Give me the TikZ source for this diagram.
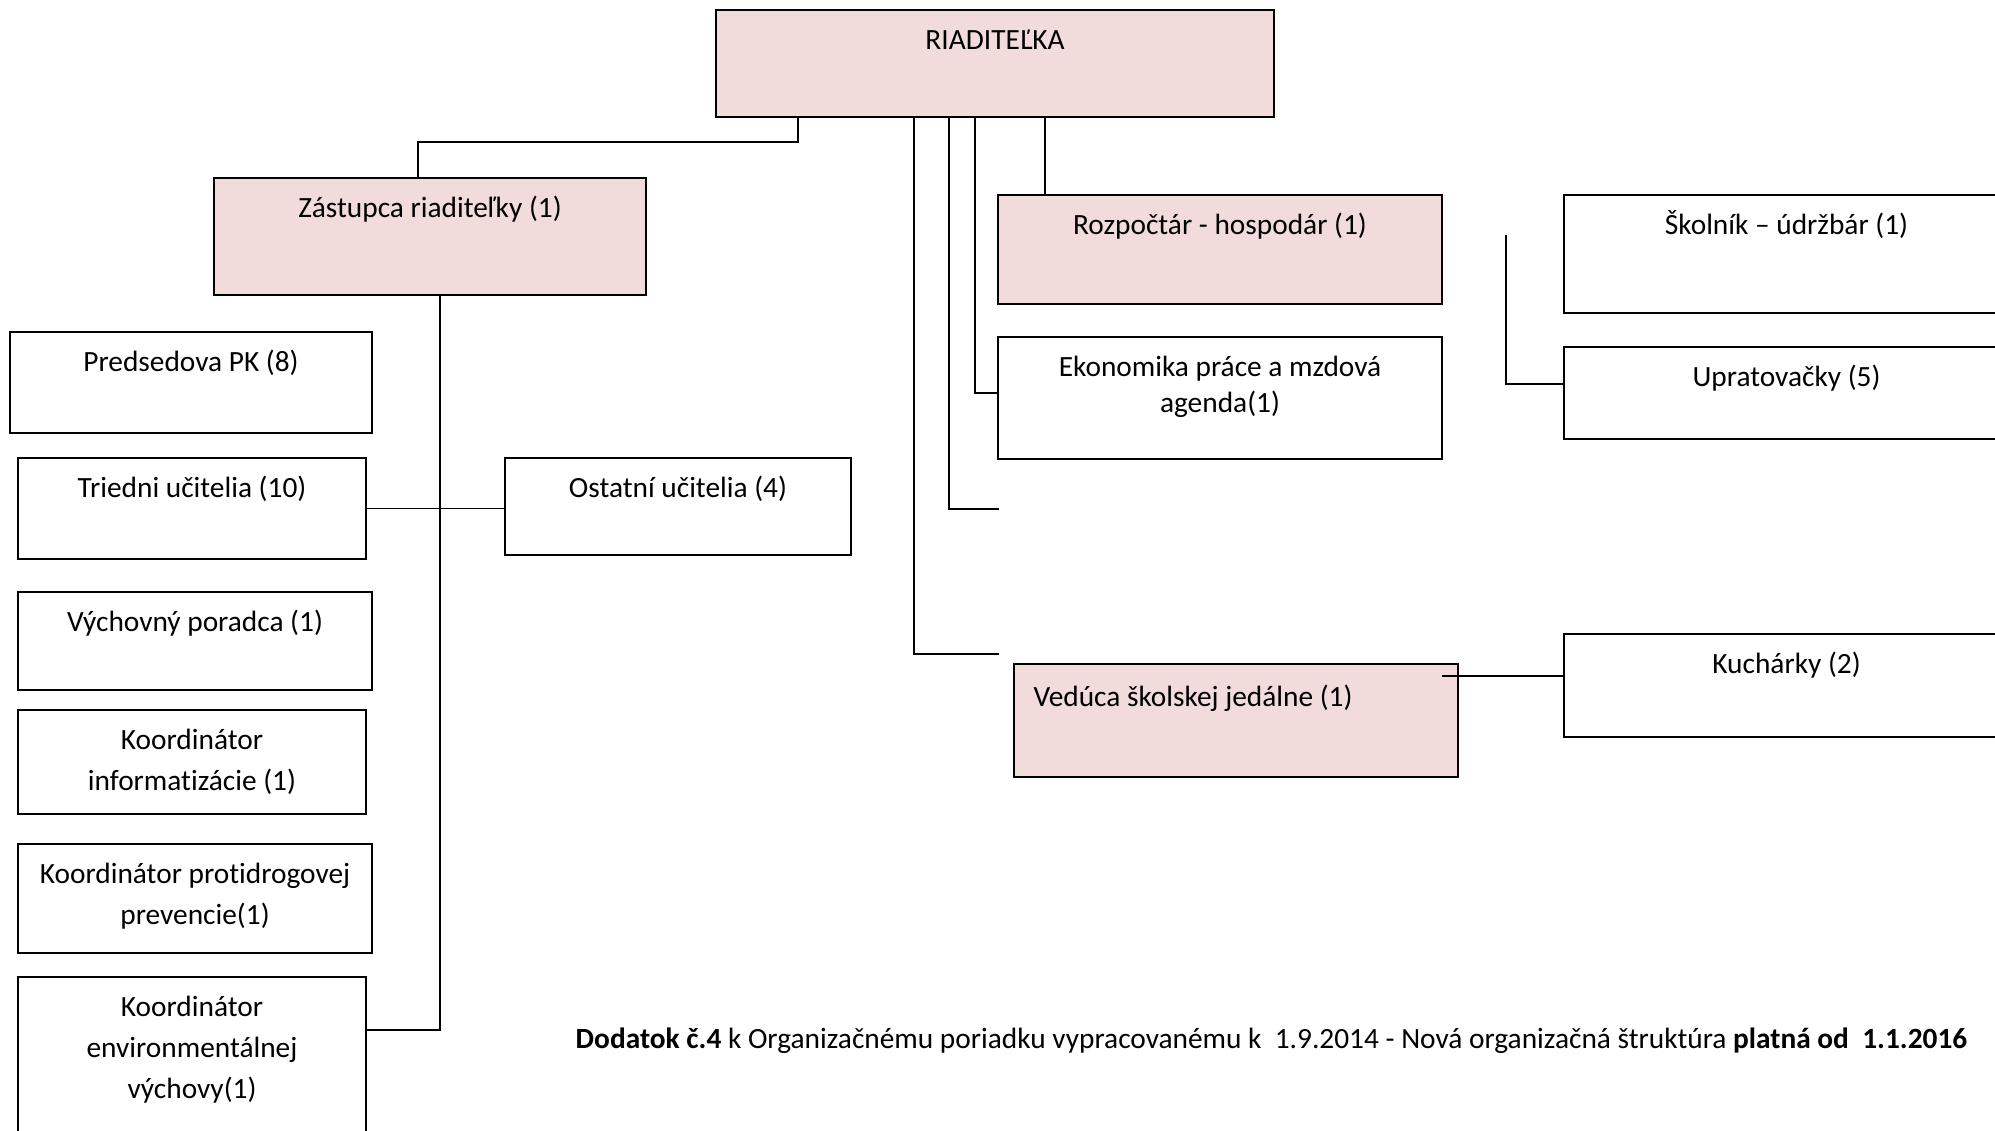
\documentclass[tikz,border=0pt]{standalone}
\usepackage{fontspec}
\setmainfont{Carlito}[Ligatures={TeX,CommonOff,ContextualOff}, Contextuals=AlternateOff]
\usepackage{tikz}
\usetikzlibrary{positioning}
\definecolor{ruzova}{HTML}{F2DCDB}
\tikzstyle{box}=[draw, line width=0.6pt, inner sep=0pt, shape=rectangle]
\tikzstyle{pbox}=[box, fill=ruzova]
\tikzstyle{txt}=[inner sep=0pt, anchor=base, text width=3.4cm, align=flush center]
\tikzstyle{con}=[line width=0.45pt]
\tikzset{every node/.append style={font=\fontsize{8.35}{11.6}\selectfont}}

\begin{document}
\begin{tikzpicture}[x=0.01cm, y=-0.01cm]
\path[use as bounding box, fill=white] (0,0) rectangle (1995,1130);
\clip (0,0) rectangle (1995,1130);
% vedenie
\node[pbox, minimum width=5.58cm, minimum height=1.07cm] (riad) at (995,63.5) {};
\node[txt] (riadT) at ([yshift=-0.41cm]riad.north) {RIADITEĽKA};
\node[pbox, minimum width=4.32cm, minimum height=1.17cm] (zast) at (430,236.5) {};
\node[txt] (zastT) at ([yshift=-0.405cm]zast.north) {Zástupca riaditeľky (1)};
% pedagogicki
\node[box, minimum width=3.62cm, minimum height=1.01cm] (preds) at (191,382.5) {};
\node[txt] (predsT) at ([yshift=-0.405cm]preds.north) {Predsedova PK (8)};
\node[box, minimum width=3.48cm, minimum height=1.01cm] (tried) at (192,508.5) {};
\node[txt] (triedT) at ([yshift=-0.405cm]tried.north) {Triedni učitelia (10)};
\node[box, minimum width=3.46cm, minimum height=0.97cm] (ostat) at (678,506.5) {};
\node[txt] (ostatT) at ([yshift=-0.405cm]ostat.north) {Ostatní učitelia (4)};
\node[box, minimum width=3.54cm, minimum height=0.98cm] (vych) at (195,641) {};
\node[txt] (vychT) at ([yshift=-0.405cm]vych.north) {Výchovný poradca (1)};
\node[box, minimum width=3.48cm, minimum height=1.04cm] (kinf) at (192,762) {};
\node[txt] (kinfT) at ([yshift=-0.405cm]kinf.north) {Koordinátor\\informatizácie (1)};
\node[box, minimum width=3.54cm, minimum height=1.09cm] (kprot) at (195,898.5) {};
\node[txt] (kprotT) at ([yshift=-0.405cm]kprot.north) {Koordinátor protidrogovej\\prevencie(1)};
\node[box, minimum width=3.48cm, minimum height=1.68cm] (kenv) at (192,1061) {};
\node[txt] (kenvT) at ([yshift=-0.405cm]kenv.north) {Koordinátor\\environmentálnej\\výchovy(1)};
% ekonomicky usek
\node[pbox, minimum width=4.44cm, minimum height=1.09cm] (rozp) at (1220,249.5) {};
\node[txt] (rozpT) at ([yshift=-0.405cm]rozp.north) {Rozpočtár - hospodár (1)};
\node[box, minimum width=4.44cm, minimum height=1.22cm] (ekon) at (1220,398) {};
\node[txt, font=\fontsize{8.35}{10.2}\selectfont] (ekonT) at ([yshift=-0.41cm]ekon.north) {Ekonomika práce a mzdová\\agenda(1)};
\node[pbox, minimum width=4.44cm, minimum height=1.13cm] (ved) at (1236,720.5) {};
\node[anchor=base west, inner sep=0pt] (vedT) at ([xshift=0.20cm, yshift=-0.44cm]ved.north west) {Vedúca školskej jedálne (1)};
% prevadzka
\node[box, minimum width=4.45cm, minimum height=1.18cm] (skol) at (1786.5,254) {};
\node[txt] (skolT) at ([yshift=-0.405cm]skol.north) {Školník – údržbár (1)};
\node[box, minimum width=4.45cm, minimum height=0.92cm] (upr) at (1786.5,393) {};
\node[txt] (uprT) at ([yshift=-0.405cm]upr.north) {Upratovačky (5)};
\node[box, minimum width=4.45cm, minimum height=1.03cm] (kuch) at (1786.5,685.5) {};
\node[txt] (kuchT) at ([yshift=-0.405cm]kuch.north) {Kuchárky (2)};
% poznamka
\node[anchor=west, inner sep=0pt] (pozn) at (575,1041) {\textbf{Dodatok č.4} k Organizačnému poriadku vypracovanému k\ \ 1.9.2014 - Nová organizačná štruktúra \textbf{platná od\ \ 1.1.2016}};
% spojnice
\coordinate (jedK) at (999,654);
\coordinate (volne) at (999,509);
\coordinate (upT) at (1506,235);
\coordinate (jedV) at (1442,676);
\draw[con] ([xshift=0.83cm]riad.south west) -- ++(0,24) -| ([xshift=2.05cm]zast.north west);
\draw[con] ([xshift=2.27cm]zast.south west) |- ([yshift=-0.54cm]kenv.north east);
\draw[con] (tried.east) -- (tried.east -| ostat.west);
\draw[con] ([xshift=1.99cm]riad.south west) |- (jedK);
\draw[con] ([xshift=2.34cm]riad.south west) |- (volne);
\draw[con] ([xshift=2.60cm]riad.south west) |- ([yshift=0.05cm]ekon.west);
\draw[con] ([xshift=3.30cm]riad.south west) -- ([xshift=3.30cm]riad.south west |- rozp.north);
\draw[con] (upT) |- ([yshift=0.09cm]upr.west);
\draw[con] (jedV) -- (jedV -| kuch.west);
\end{tikzpicture}
\end{document}
